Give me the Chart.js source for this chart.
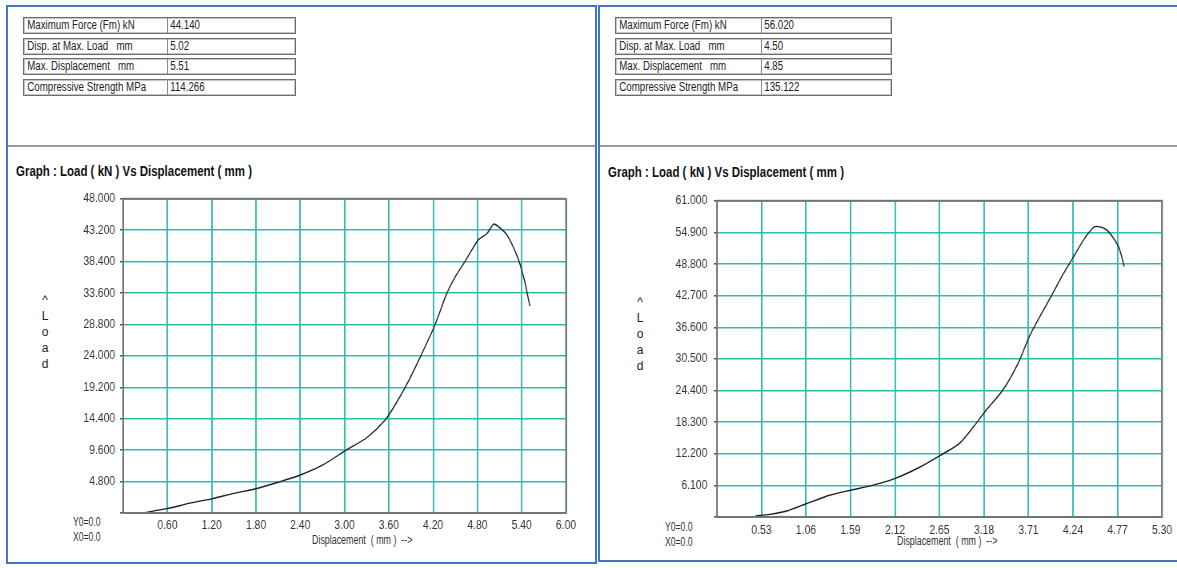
<!DOCTYPE html>
<html>
<head>
<meta charset="utf-8">
<script src="https://cdn.jsdelivr.net/npm/chart.js@4/dist/chart.umd.min.js"></script>
<style>
  html, body { margin: 0; padding: 0; background: #fff; }
  body { width: 1177px; height: 568px; overflow: hidden; position: relative;
         font-family: "Liberation Sans", Arial, sans-serif; color: #222; }
  .panel { position: absolute; border: 2px solid #4472c4; box-sizing: border-box; }
  .sep { position: absolute; left: 0; right: 0; top: 138px; height: 0; border-top: 2px solid #9a9a9a; }
  .row { position: absolute; height: 17px; box-sizing: border-box; border: 1px solid #6e6e6e;
         box-shadow: inset 1px 1px 0 #c4c4c4, inset -1px -1px 0 #c4c4c4; font-size: 12px; line-height: 15px; }
  .row span { position: absolute; top: 0; padding-left: 4px; white-space: pre; transform-origin: 0 0; transform: scaleX(0.81); }
  .row .div { position: absolute; top: 0; bottom: 0; width: 0; border-left: 1px solid #8a8a8a; }
  .nar { position: absolute; white-space: pre; transform-origin: 0 0; }
  .title { font-weight: bold; font-size: 14px; color: #111; transform: scaleX(0.82); }
  .ylab { position: absolute; font-size: 12px; line-height: 16px; text-align: center; width: 12px; color: #222; }
  .origin { font-size: 12px; line-height: 15px; color: #333; transform: scaleX(0.72); }
  .xlab { font-size: 12px; color: #333; transform: scaleX(0.74); }
  .box { position: absolute; transform-origin: 0 0; transform: scaleX(0.8); }
</style>
</head>
<body>
<div class="panel" style="left:6px; top:5px; width:591px; height:559px;"><div class="sep"></div></div>
<div class="panel" style="left:598px; top:5px; width:620px; height:557px;"><div class="sep"></div></div>

<div id="tblL"></div>
<div id="tblR"></div>

<div class="nar title" style="left:16px; top:163px;">Graph : Load ( kN ) Vs Displacement ( mm )</div>
<div class="nar title" style="left:608px; top:164px;">Graph : Load ( kN ) Vs Displacement ( mm )</div>

<div class="ylab" style="left:39px; top:292px;">^<br>L<br>o<br>a<br>d</div>
<div class="ylab" style="left:634px; top:294px;">^<br>L<br>o<br>a<br>d</div>

<div class="nar origin" style="left:73px; top:515px;">Y0=0.0<br>X0=0.0</div>
<div class="nar origin" style="left:665px; top:520px;">Y0=0.0<br>X0=0.0</div>

<div class="nar xlab" style="left:312px; top:533px;">Displacement  ( mm )  --&gt;</div>
<div class="nar xlab" style="left:897px; top:534px;">Displacement  ( mm )  --&gt;</div>

<div class="box" style="left:8px; top:185px; width:732px; height:376px;"><canvas id="chartL"></canvas></div>
<div class="box" style="left:601px; top:185px; width:720px; height:376px;"><canvas id="chartR"></canvas></div>

<script>
// summary tables
const tblLabels = ['Maximum Force (Fm) kN', 'Disp. at Max. Load   mm', 'Max. Displacement   mm', 'Compressive Strength MPa'];
const tblValuesL = ['44.140', '5.02', '5.51', '114.266'];
const tblValuesR = ['56.020', '4.50', '4.85', '135.122'];

// left test: displacement (mm) / load (kN)
const dispL = [0.28, 0.45, 0.61, 0.90, 1.21, 1.50, 1.81, 2.10, 2.40, 2.70, 3.02, 3.30, 3.55, 3.70, 3.85, 4.02, 4.22, 4.38, 4.50, 4.63, 4.81, 4.93, 5.02, 5.10, 5.20, 5.35, 5.44, 5.51];
const loadL = [0.0, 0.4, 0.7, 1.5, 2.2, 3.0, 3.75, 4.7, 5.8, 7.3, 9.6, 11.5, 14.2, 16.8, 19.8, 23.7, 28.6, 33.4, 36.1, 38.4, 41.7, 42.7, 44.14, 43.6, 42.5, 38.9, 35.4, 31.6];

// right test
const dispR = [0.46, 0.63, 0.83, 1.07, 1.34, 1.60, 1.85, 2.13, 2.40, 2.66, 2.88, 3.05, 3.20, 3.40, 3.59, 3.73, 3.99, 4.12, 4.26, 4.38, 4.50, 4.64, 4.78, 4.85];
const loadR = [0.2, 0.5, 1.15, 2.6, 4.2, 5.2, 6.1, 7.5, 9.5, 11.9, 14.1, 17.3, 20.5, 24.4, 29.8, 35.2, 42.9, 46.8, 50.6, 53.8, 56.02, 55.4, 52.2, 48.3];

// axis ticks
const xTicksL = [0, 0.6, 1.2, 1.8, 2.4, 3.0, 3.6, 4.2, 4.8, 5.4, 6.0];
const yTicksL = [0, 4.8, 9.6, 14.4, 19.2, 24.0, 28.8, 33.6, 38.4, 43.2, 48.0];
const xTicksR = [0, 0.53, 1.06, 1.59, 2.12, 2.65, 3.18, 3.71, 4.24, 4.77, 5.30];
const yTicksR = [0, 6.1, 12.2, 18.3, 24.4, 30.5, 36.6, 42.7, 48.8, 54.9, 61.0];

function buildTable(id, left, width, divX, values) {
    const el = document.getElementById(id);
    const tops = [17, 38, 58, 79];
    tblLabels.forEach((lab, i) => {
        const r = document.createElement('div');
        r.className = 'row';
        r.style.left = left + 'px';
        r.style.top = tops[i] + 'px';
        r.style.width = width + 'px';
        r.innerHTML = '<span style="left:0">' + lab + '</span>' +
            '<div class="div" style="left:' + divX + 'px"></div>' +
            '<span style="left:' + divX + 'px">' + values[i] + '</span>';
        el.appendChild(r);
    });
}
buildTable('tblL', 23, 273, 143, tblValuesL);
buildTable('tblR', 615, 277, 145, tblValuesR);

Chart.defaults.font.family = '"Liberation Sans", Arial, sans-serif';
Chart.defaults.font.size = 13;
Chart.defaults.color = '#333';

const frame = {
    id: 'frame',
    afterDatasetsDraw(chart) {
        const a = chart.chartArea, ctx = chart.ctx;
        ctx.save();
        ctx.strokeStyle = '#747474';
        ctx.lineWidth = 2;
        ctx.strokeRect(a.left, a.top, a.right - a.left, a.bottom - a.top);
        ctx.restore();
    }
};

function makeChart(id, xs, ys, xTicks, yTicks, pad, yW, xH, xPad, yPad) {
    new Chart(document.getElementById(id), {
        type: 'scatter',
        data: {
            datasets: [{
                data: xs.map((x, i) => ({ x: x, y: ys[i] })),
                showLine: true,
                borderColor: '#1e1e1e',
                borderWidth: 1.4,
                pointRadius: 0,
                tension: 0.25
            }]
        },
        options: {
            responsive: true,
            maintainAspectRatio: false,
            animation: false,
            layout: { padding: pad },
            plugins: { legend: { display: false }, tooltip: { enabled: false } },
            scales: {
                x: {
                    type: 'linear',
                    min: xTicks[0], max: xTicks[xTicks.length - 1],
                    afterBuildTicks: s => { s.ticks = xTicks.map(v => ({ value: v })); },
                    afterFit: s => { s.height = xH; },
                    border: { display: false },
                    grid: { color: '#2cbcb0', lineWidth: 1.9, drawTicks: false },
                    ticks: { padding: xPad, maxRotation: 0, autoSkip: false,
                             callback: v => v === 0 ? '' : v.toFixed(2) }
                },
                y: {
                    type: 'linear',
                    min: yTicks[0], max: yTicks[yTicks.length - 1],
                    afterBuildTicks: s => { s.ticks = yTicks.map(v => ({ value: v })); },
                    afterFit: s => { s.width = yW; },
                    border: { display: false },
                    grid: { color: '#2cbcb0', lineWidth: 1.5, tickLength: 4, tickColor: '#555' },
                    ticks: { padding: yPad, autoSkip: false,
                             callback: v => v === 0 ? '' : v.toFixed(3) }
                }
            }
        },
        plugins: [frame]
    });
}

makeChart('chartL', dispL, loadL, xTicksL, yTicksL, { left: 0, top: 12, right: 34.5, bottom: 0 }, 144, 48, 5, 6);
makeChart('chartR', dispR, loadR, xTicksR, yTicksR, { left: 0, top: 14, right: 16, bottom: 0 }, 145, 44, 6, 8);
</script>
</body>
</html>
